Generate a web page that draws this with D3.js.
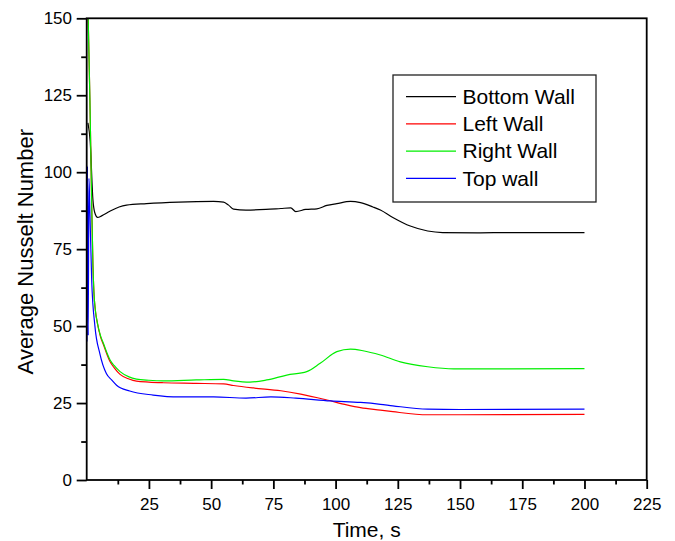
<!DOCTYPE html>
<html>
<head>
<meta charset="utf-8">
<script src="https://cdn.jsdelivr.net/npm/d3@7"></script>
<style>
  body { margin: 0; background: #fff; }
  svg { display: block; font-family: "Liberation Sans", Arial, sans-serif; }
</style>
</head>
<body>
<script>
// Values: [time (s), Nusselt number]
const bottomWall = [
  [0.5, 116], [1.4, 110], [2.5, 91], [3.2, 87], [4.4, 85.3], [6, 85.8], [9.3, 87.3],
  [13, 88.7], [16, 89.3], [24, 89.8], [37, 90.3], [51, 90.5], [55, 90.3], [57, 89.3],
  [59, 88], [64, 87.7], [72, 87.9], [78, 88.2], [82, 88.4], [84, 87.2], [88, 87.9],
  [92.5, 88.1], [96.5, 89.2], [100.5, 89.8], [106, 90.5], [110, 90.1], [115, 88.7],
  [118, 87.7], [123, 85.3], [130, 82.5], [137, 80.9], [143, 80.4], [157, 80.3],
  [170, 80.4], [200, 80.4]
];
const leftWall = [
  [0, 175], [0.6, 150], [1.3, 123], [2.0, 90], [2.5, 70], [2.9, 61], [3.5, 55],
  [4.3, 51], [5.5, 46.7], [6.7, 44], [9.4, 38.4], [11, 36.5], [13.4, 34.3], [17, 32.8],
  [20, 32.1], [25, 31.8], [30.7, 31.6], [44, 31.4], [55, 31.2], [59, 30.7], [67, 29.9],
  [78, 29], [86, 27.9], [96.5, 26], [104.5, 24.4], [110, 23.5], [118, 22.7], [123, 22.2],
  [137, 21.2], [150, 21.2], [200, 21.3]
];
const rightWall = [
  [0, 175], [0.6, 150], [1.3, 123], [2.0, 90], [2.5, 70], [2.9, 61], [3.5, 55],
  [4.3, 51], [5.5, 47], [6.7, 44.4], [9.4, 39], [11, 37.2], [13.4, 35.2], [17, 33.5],
  [20, 32.8], [25, 32.4], [30.7, 32.2], [44, 32.5], [55, 32.7], [59, 32.2], [65.6, 31.8],
  [72.3, 32.5], [80.4, 34.1], [88.4, 35.2], [93.8, 37.9], [100.5, 41.7], [106, 42.5],
  [111, 42], [118, 40.6], [126, 38.4], [137, 36.8], [147.5, 36.1], [200, 36.2]
];
const topWall = [
  [0.1, 45], [0.3, 102], [0.6, 47], [0.9, 98], [1.2, 90], [2.0, 65], [3.3, 50],
  [5.3, 41], [7.9, 34.6], [10, 32.5], [12, 30.8], [17.3, 28.9], [26.7, 27.6], [37, 27],
  [51, 27], [64, 26.6], [74, 27], [84, 26.6], [98, 25.7], [110, 25.2], [118, 24.6],
  [123, 24.1], [137, 23], [150, 22.9], [200, 23]
];

const seriesNames = ["Bottom Wall", "Left Wall", "Right Wall", "Top wall"];
const seriesColors = ["#000000", "#ff0000", "#00ee00", "#0000ff"];
const seriesData = [bottomWall, leftWall, rightWall, topWall];

const xTicks = [25, 50, 75, 100, 125, 150, 175, 200, 225];
const xMinorTicks = d3.range(12.5, 225, 25);
const yTicks = [0, 25, 50, 75, 100, 125, 150];
const yMinorTicks = d3.range(12.5, 150, 25);

const width = 675, height = 541;
const margin = { left: 86.7, right: 675 - 646.7, top: 18.3, bottom: 541 - 480 };

const x = d3.scaleLinear().domain([0, 225]).range([margin.left, width - margin.right]);
const y = d3.scaleLinear().domain([0, 150]).range([height - margin.bottom, margin.top]);

const svg = d3.select("body").append("svg")
    .attr("width", width)
    .attr("height", height);

svg.append("clipPath").attr("id", "plot")
  .append("rect")
    .attr("x", x(0)).attr("y", y(150))
    .attr("width", x(225) - x(0)).attr("height", y(0) - y(150));

// Lines
const line = d3.line()
    .x(d => x(d[0]))
    .y(d => y(d[1]))
    .curve(d3.curveMonotoneX);

svg.append("g")
    .attr("clip-path", "url(#plot)")
  .selectAll("path")
  .data(seriesData)
  .join("path")
    .attr("fill", "none")
    .attr("stroke", (d, i) => seriesColors[i])
    .attr("stroke-width", 1.2)
    .attr("stroke-linejoin", "round")
    .attr("d", line);

// Axes
const fontSize = 17;
svg.append("g")
    .attr("transform", `translate(0,${y(0)})`)
    .call(d3.axisBottom(x).tickValues(xTicks).tickSize(9).tickPadding(9).tickSizeOuter(0));
svg.append("g")
    .attr("transform", `translate(0,${y(0)})`)
    .call(d3.axisBottom(x).tickValues(xMinorTicks).tickSize(4.5).tickFormat("").tickSizeOuter(0));

svg.append("g")
    .attr("transform", `translate(${x(0)},0)`)
    .call(d3.axisLeft(y).tickValues(yTicks).tickSize(10).tickPadding(4.7).tickSizeOuter(0));
svg.append("g")
    .attr("transform", `translate(${x(0)},0)`)
    .call(d3.axisLeft(y).tickValues(yMinorTicks).tickSize(5.5).tickFormat("").tickSizeOuter(0));

svg.selectAll(".domain").remove();
svg.selectAll(".tick line").attr("stroke", "#000").attr("stroke-width", 1.8);
svg.selectAll(".tick text")
    .attr("fill", "#000")
    .style("font-size", fontSize + "px")
    .style("font-family", "'Liberation Sans', Arial, sans-serif");

// Frame
svg.append("rect")
    .attr("x", x(0)).attr("y", y(150))
    .attr("width", x(225) - x(0)).attr("height", y(0) - y(150))
    .attr("fill", "none")
    .attr("stroke", "#000")
    .attr("stroke-width", 1.8);

// Axis titles
svg.append("text")
    .attr("x", (x(0) + x(225)) / 2)
    .attr("y", 537)
    .attr("text-anchor", "middle")
    .style("font-size", "21px")
    .text("Time, s");

svg.append("text")
    .attr("transform", `translate(33,${251.7}) rotate(-90)`)
    .attr("text-anchor", "middle")
    .style("font-size", "22px")
    .text("Average Nusselt Number");

// Legend
const legend = svg.append("g").attr("transform", "translate(393,75)");
legend.append("rect")
    .attr("width", 203).attr("height", 127)
    .attr("fill", "#fff")
    .attr("stroke", "#222")
    .attr("stroke-width", 1.3);

const rows = legend.selectAll("g.row")
  .data(seriesNames)
  .join("g")
    .attr("class", "row")
    .attr("transform", (d, i) => `translate(0,${21.7 + i * 27.2})`);

rows.append("line")
    .attr("x1", 13).attr("x2", 63)
    .attr("stroke", (d, i) => seriesColors[i])
    .attr("stroke-width", 1.3);

rows.append("text")
    .attr("x", 69.5)
    .attr("dy", "0.35em")
    .style("font-size", "21px")
    .text(d => d);
</script>
</body>
</html>
